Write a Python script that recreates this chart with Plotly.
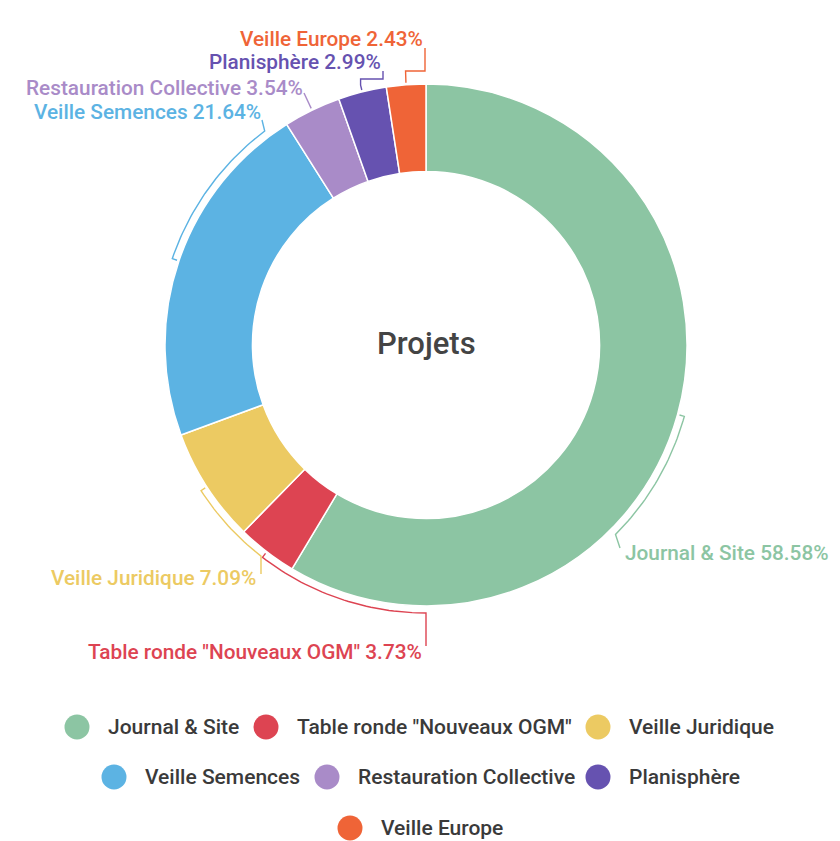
import numpy as np
import plotly.graph_objects as go

# ---------------- data ----------------
categories = ["Journal & Site", 'Table ronde "Nouveaux OGM"', "Veille Juridique",
              "Veille Semences", "Restauration Collective", "Planisphère", "Veille Europe"]
shares = [58.58, 3.73, 7.09, 21.64, 3.54, 2.99, 2.43]
center_title = "Projets"

# ---------------- style / layout ----------------
colors = ["#8cc5a3", "#dd4452", "#ecca62", "#5cb3e3", "#a98bc8", "#6652b0", "#ef6437"]
W, H = 840, 841
PAGE_MARGIN = 8  # default HTML body margin: figure is drawn shifted by this amount
CX, CY, R = 426, 345, 261
HOLE = 0.665
RB = R + 7  # bracket radius
FONT = "Roboto"
LABEL_SIZE = 20.8
LEGEND_SIZE = 21

# label layout per slice: arc end angle (deg, clockwise from 12h) or None,
# leader points (None in x => use previous x), text position and anchor
LABEL_LAYOUT = [
    dict(arc_to=135, leader=[(620, 548)], text=(623, 553), anchor="left"),
    dict(arc_to=180, leader=[(None, 646)], text=(424, 652), anchor="right"),
    dict(arc_to=218, leader=[(None, 574)], text=(258, 578), anchor="right"),
    dict(arc_to=323, leader=[(262, 120)], text=(263, 112), anchor="right"),
    dict(arc_to=None, leader=[(304, 93)], text=(305, 88), anchor="right"),
    dict(arc_to=None, leader=[(None, 79), (383, 79), (383, 71)], text=(383, 62), anchor="right"),
    dict(arc_to=None, leader=[(None, 71), (425, 71), (425, 48)], text=(425, 39), anchor="right"),
]
LEGEND_POS = [(77, 727), (266, 727), (598, 727), (114, 777), (327, 777), (598, 777), (350, 828)]


def pt(theta_deg, r):
    t = np.radians(theta_deg)
    return CX + r * np.sin(t), CY - r * np.cos(t)


fig = go.Figure()

# overlay axes in window-pixel coordinates
M = PAGE_MARGIN
fig.update_layout(
    xaxis=dict(range=[M, W + M], domain=[0, 1], visible=False, fixedrange=True),
    yaxis=dict(range=[H + M, M], domain=[0, 1], visible=False, fixedrange=True),
)

fig.add_trace(go.Pie(
    labels=categories, values=shares, sort=False, direction="clockwise", rotation=0,
    hole=HOLE, textinfo="none", textposition="none", showlegend=False,
    marker=dict(colors=colors, line=dict(color="white", width=1.5)),
    domain=dict(x=[(CX - R - M) / W, (CX + R - M) / W],
                y=[(H + M - CY - R) / H, (H + M - CY + R) / H]),
))

# brackets + labels
total = sum(shares)
cum = 0.0
annotations = []
for name, v, col, lay in zip(categories, shares, colors, LABEL_LAYOUT):
    a0 = cum / total * 360
    a1 = (cum + v) / total * 360
    cum += v
    mid = (a0 + a1) / 2
    xs, ys = [], []
    x, y = pt(mid, R + 2)
    xs.append(x); ys.append(y)
    end = lay["arc_to"] if lay["arc_to"] is not None else mid
    n = max(2, int(abs(end - mid)) + 2)
    for th in np.linspace(mid, end, n):
        x, y = pt(th, RB)
        xs.append(x); ys.append(y)
    for lx, ly in lay["leader"]:
        if lx is None:
            lx = xs[-1]
        xs.append(lx); ys.append(ly)
    fig.add_trace(go.Scatter(x=xs, y=ys, mode="lines", line=dict(color=col, width=1.4),
                             hoverinfo="skip", showlegend=False))
    tx, ty = lay["text"]
    annotations.append(dict(
        x=tx, y=ty, xref="x", yref="y", xanchor=lay["anchor"], yanchor="middle",
        text=f"{name} {v:.2f}%", showarrow=False,
        font=dict(family=FONT, size=LABEL_SIZE, color=col, weight=500)))

# center title
annotations.append(dict(x=CX, y=CY - 2, xref="x", yref="y", text=center_title, showarrow=False,
                        xanchor="center", yanchor="middle",
                        font=dict(family=FONT, size=31, color="#444444", weight=500)))

# custom legend
for name, col, (lx, ly) in zip(categories, colors, LEGEND_POS):
    fig.add_trace(go.Scatter(x=[lx], y=[ly], mode="markers",
                             marker=dict(size=25, color=col, line=dict(width=0)),
                             hoverinfo="skip", showlegend=False))
    annotations.append(dict(x=lx + 29, y=ly, xref="x", yref="y", xanchor="left", yanchor="middle",
                            text=name, showarrow=False,
                            font=dict(family=FONT, size=LEGEND_SIZE, color="#3a3a3a", weight=500)))

fig.update_layout(
    width=W, height=H, margin=dict(l=0, r=0, t=0, b=0),
    paper_bgcolor="white", plot_bgcolor="white",
    showlegend=False, annotations=annotations,
)

fig.write_html("out.html")
